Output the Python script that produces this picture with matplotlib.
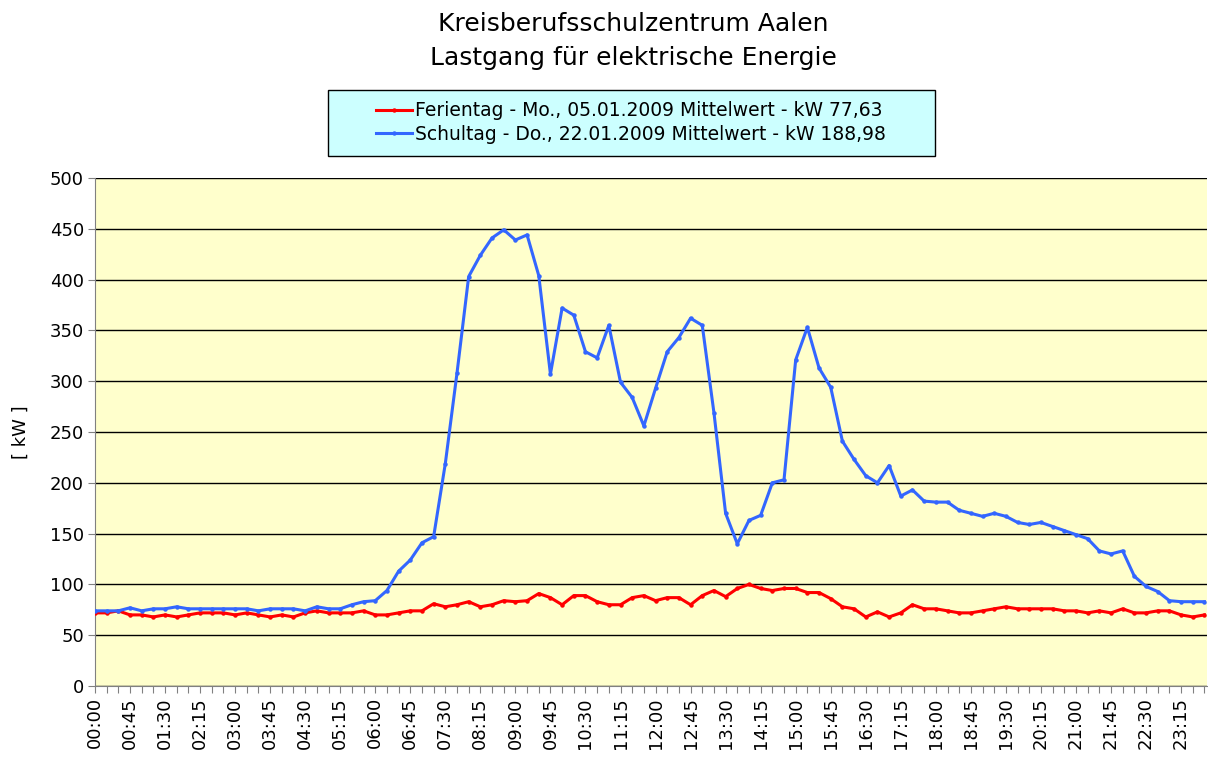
import numpy as np
import matplotlib.pyplot as plt
from matplotlib.patches import Rectangle

# Zeitachse: 15-Minuten-Werte von 00:00 bis 23:45
zeiten = [f"{h:02d}:{m:02d}" for h in range(24) for m in (0, 15, 30, 45)]

# Ferientag - Mo., 05.01.2009 (kW)
ferientag = [72, 72, 74, 70, 70, 68, 70, 68, 70, 72, 72, 72, 70, 72, 70, 68,
             70, 68, 72, 74, 72, 72, 72, 74, 70, 70, 72, 74, 74, 81, 78, 80,
             83, 78, 80, 84, 83, 84, 91, 87, 80, 89, 89, 83, 80, 80, 87, 89,
             84, 87, 87, 80, 89, 94, 88, 96, 100, 96, 94, 96, 96, 92, 92, 86,
             78, 76, 68, 73, 68, 72, 80, 76, 76, 74, 72, 72, 74, 76, 78, 76,
             76, 76, 76, 74, 74, 72, 74, 72, 76, 72, 72, 74, 74, 70, 68, 70]

# Schultag - Do., 22.01.2009 (kW)
schultag = [74, 74, 74, 77, 74, 76, 76, 78, 76, 76, 76, 76, 76, 76, 74, 76,
            76, 76, 74, 78, 76, 76, 80, 83, 84, 94, 113, 124, 141, 147, 219, 308,
            403, 424, 441, 449, 439, 444, 404, 307, 372, 365, 329, 323, 355, 299, 284, 256,
            293, 329, 343, 362, 355, 269, 170, 140, 163, 168, 200, 203, 321, 353, 313, 294,
            241, 223, 207, 200, 217, 187, 193, 182, 181, 181, 173, 170, 167, 170, 167, 161,
            159, 161, 157, 153, 149, 145, 133, 130, 133, 108, 98, 93, 84, 83, 83, 83]

label_ferien = "Ferientag - Mo., 05.01.2009 Mittelwert - kW 77,63"
label_schul = "Schultag - Do., 22.01.2009 Mittelwert - kW 188,98"

x = np.arange(len(zeiten))

fig = plt.figure(figsize=(12.08, 7.62), dpi=100)
ax = fig.add_axes([0.0786, 0.0997, 0.9204, 0.6667])
ax.set_facecolor('#FFFFCC')

l1, = ax.plot(x, ferientag, color='#FF0000', linewidth=2.2, marker='o', markersize=2.2,
              label=label_ferien, zorder=3)
l2, = ax.plot(x, schultag, color='#3366FF', linewidth=2.2, marker='o', markersize=2.2,
              label=label_schul, zorder=3)

ax.set_xlim(0, len(zeiten) - 0.8)
ax.set_ylim(0, 500)
ax.set_yticks(np.arange(0, 501, 50))
ax.yaxis.grid(True, color='black', linewidth=1.0)
ax.set_axisbelow(True)

# alle 15 Minuten ein Strich, Beschriftung nur alle 45 Minuten
ax.set_xticks(x)
ax.set_xticklabels([z if i % 3 == 0 else '' for i, z in enumerate(zeiten)], rotation=90)
ax.tick_params(axis='x', length=5, color='#808080', labelsize=13, pad=3)
ax.tick_params(axis='y', length=5, color='#808080', labelsize=13, pad=3)

for s in ['top', 'right']:
    ax.spines[s].set_visible(False)
ax.spines['left'].set_color('#808080')
ax.spines['bottom'].set_color('#808080')

ax.set_ylabel('[ kW ]', fontsize=13, labelpad=14)

fig.text(0.524, 0.946, "Kreisberufsschulzentrum Aalen\nLastgang für elektrische Energie",
         ha='center', va='center', fontsize=18, linespacing=1.5)

# Legendenrahmen (hellblau)
fig.patches.append(Rectangle((328 / 1208, 1 - 156 / 762), 607 / 1208, 66 / 762,
                             transform=fig.transFigure, facecolor='#CCFFFF',
                             edgecolor='black', linewidth=1.0, zorder=1))

leg = fig.legend(handles=[l1, l2], loc='center', bbox_to_anchor=(0.5225, 0.839),
                 fontsize=13.5, frameon=False, handlelength=1.9,
                 handletextpad=0.2, borderpad=0.3, labelspacing=0.25)

fig.savefig('out.png', dpi=100)
